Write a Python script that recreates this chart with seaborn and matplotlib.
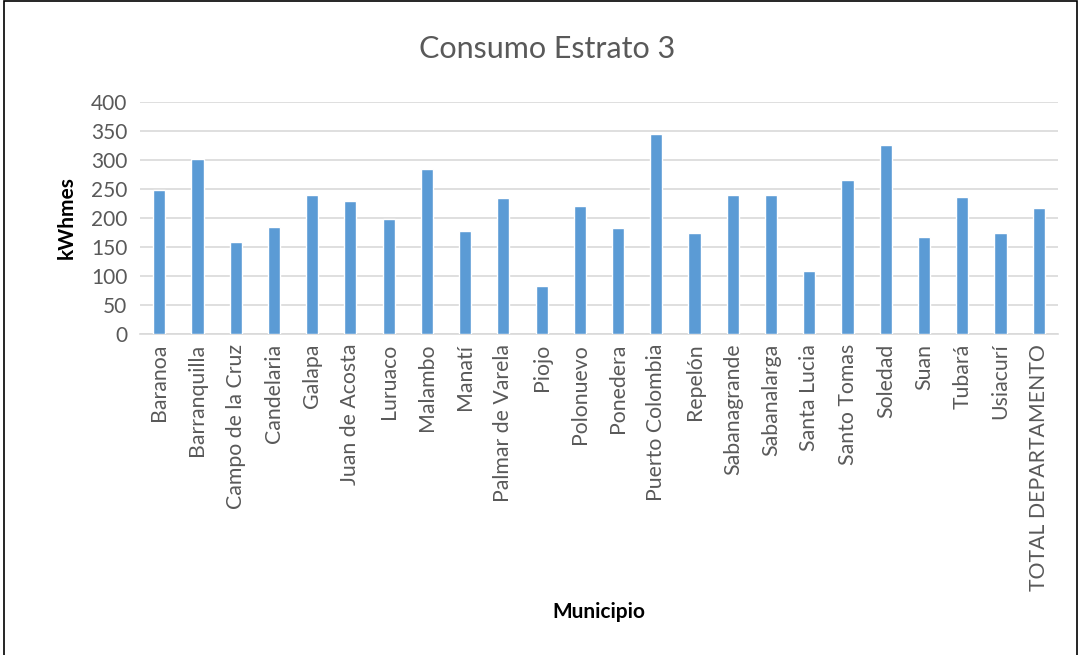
import matplotlib
matplotlib.use("Agg")
import matplotlib.pyplot as plt
import seaborn as sns
import pandas as pd
from matplotlib.patches import Rectangle

municipios = ["Baranoa", "Barranquilla", "Campo de la Cruz", "Candelaria", "Galapa",
              "Juan de Acosta", "Luruaco", "Malambo", "Manatí", "Palmar de Varela",
              "Piojo", "Polonuevo", "Ponedera", "Puerto Colombia", "Repelón",
              "Sabanagrande", "Sabanalarga", "Santa Lucia", "Santo Tomas", "Soledad",
              "Suan", "Tubará", "Usiacurí", "TOTAL DEPARTAMENTO"]
consumo = [248, 302, 158, 184, 240, 229, 198, 285, 177, 234, 83, 221, 183, 344, 174,
           240, 239, 109, 266, 325, 167, 237, 175, 218]
yticks = [0, 50, 100, 150, 200, 250, 300, 350, 400]

sns.set_theme(style="white")
plt.rcParams['font.family'] = ['Lato', 'DejaVu Sans']

df = pd.DataFrame({"Municipio": municipios, "kWhmes": consumo})

fig = plt.figure(figsize=(10.82, 6.55), dpi=100)
ax = fig.add_axes([0.1294, 0.490, 0.8484, 0.3543])
sns.barplot(data=df, x="Municipio", y="kWhmes", color="#5B9BD5", saturation=1,
            width=0.32, ax=ax, zorder=3)
ax.set_ylim(0, 400)
ax.set_yticks(yticks)
ax.set_xlim(-0.5, len(municipios) - 0.5)
ax.grid(axis="y", color="#D9D9D9", linewidth=1.2, zorder=0)
for s in ["top", "right", "left"]:
    ax.spines[s].set_visible(False)
ax.spines["bottom"].set_color("#D9D9D9")
ax.spines["bottom"].set_linewidth(1.2)
ax.tick_params(axis="y", labelsize=15, labelcolor="#595959", length=0, pad=9)
ax.tick_params(axis="x", length=0, pad=7)
ax.set_xticks(range(len(municipios)))
ax.set_xticklabels(municipios, rotation=90, fontsize=15.3, color="#595959")
ax.set_xlabel("Municipio", fontsize=15, fontweight="bold", color="black", labelpad=8)
ax.set_ylabel("kWhmes", fontsize=15, fontweight="bold", color="black", labelpad=10)
fig.text(0.506, 0.925, "Consumo Estrato 3", fontsize=22, color="#595959",
         ha="center", va="center")

fig.patches.append(Rectangle((0.004, -0.01), 0.991, 1.008, transform=fig.transFigure,
                             fill=False, edgecolor="black", linewidth=1.2))
fig.savefig("out.png", dpi=100)
